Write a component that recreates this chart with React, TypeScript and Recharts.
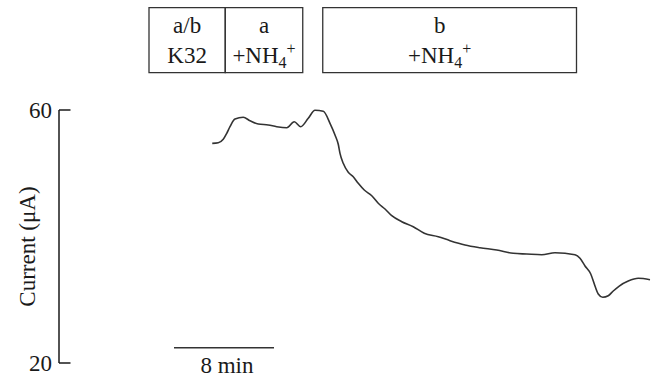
import { LineChart, Line, XAxis, YAxis, ReferenceArea, ReferenceLine, Label } from 'recharts'

// trace (time in min, current in µA)
const timeMin = [
  12.26, 12.74, 13.14, 13.42, 13.68, 14.08, 14.74, 15.28, 15.94, 16.74, 17.42, 18.22, 18.82, 19.34,
  19.94, 20.48, 21.14, 21.68, 22.08, 22.34, 22.48, 22.74, 23.14, 23.54, 23.94, 24.42, 25.02, 25.54,
  26.08, 26.62, 27.42, 28.34, 29.22, 30.34, 31.28, 32.48, 33.68, 35.02, 36.34, 37.42, 38.62, 39.68,
  41.28, 41.68, 42.08, 42.54, 42.88, 43.14, 43.5, 43.94, 44.34, 44.82, 45.54, 46.34, 47.28,
]
const currentUA = [
  54.73, 54.83, 55.37, 56.32, 57.36, 58.58, 58.85, 58.31, 57.79, 57.63, 57.36, 57.2, 58.15, 57.36,
  58.69, 59.95, 59.79, 57.9, 56.05, 54.58, 53.15, 51.57, 50.15, 49.45, 48.41, 47.35, 46.45, 45.25,
  44.35, 43.29, 42.34, 41.55, 40.51, 39.97, 39.34, 38.66, 38.23, 37.87, 37.34, 37.23, 37.12, 37.44,
  37.12, 36.55, 35.34, 34.07, 32.17, 30.91, 30.39, 30.64, 31.38, 32.17, 32.96, 33.39, 33.17,
]
const yTicks = [20, 60]

// treatment periods shown in the boxes above the trace
const cellStart = [7.2, 13.3, 21.1]
const cellEnd = [13.3, 19.5, 41.4]
const cellTop = ['a/b', 'a', 'b']
const cellBottom = ['K32', '+NH4+', '+NH4+']
const boxLow = 65.9
const boxHigh = 76.2

const scaleBarStart = 9.2
const scaleBarMinutes = 8
const scaleBarLevel = 22.4

const FONT = 'Liberation Serif, Times New Roman, serif'
const FS = 23
const INK = '#1a1a1a'

const data = timeMin.map((t, i) => ({ t, v: currentUA[i] }))

const textStyle = { fontFamily: FONT, fontSize: FS }

function Chem({ text }: { text: string }) {
  if (text === '+NH4+') {
    return (
      <>
        <tspan>+NH</tspan>
        <tspan dy={5} style={{ fontSize: 16 }}>4</tspan>
        <tspan dy={-14} style={{ fontSize: 16 }}>+</tspan>
      </>
    )
  }
  return <tspan>{text}</tspan>
}

function cellLabel(i: number) {
  return (props: any) => {
    const vb = props.viewBox
    if (!vb) return null
    const cx = vb.x + vb.width / 2 + (i === 2 ? -10 : 0)
    return (
      <g fill={INK}>
        <text x={cx} y={vb.y + 25.5} textAnchor="middle" style={textStyle}>{cellTop[i]}</text>
        <text x={cx} y={vb.y + 55.5} textAnchor="middle" style={textStyle}>
          <Chem text={cellBottom[i]} />
        </text>
      </g>
    )
  }
}

function YTick(props: any) {
  const { x, y, payload } = props
  return (
    <g>
      <line x1={x + 7} x2={x + 18.5} y1={y} y2={y} stroke={INK} strokeWidth={1.5} />
      <text x={x} y={y} dy="0.355em" textAnchor="end" fill={INK} style={textStyle}>
        {payload.value}
      </text>
    </g>
  )
}

export default function App() {
  return (
    <div style={{ position: 'absolute', left: 0, top: 0, background: '#fff' }}>
      <LineChart width={654} height={379} data={data} margin={{ top: 110, right: 0, bottom: 16, left: 0 }}>
        <XAxis dataKey="t" type="number" domain={[0, 47.6]} hide />
        <YAxis
          width={59}
          domain={[20, 60]}
          ticks={yTicks}
          tickSize={0}
          tickMargin={7}
          tickLine={false}
          tick={<YTick />}
          axisLine={{ stroke: INK, strokeWidth: 1.5 }}
        >
          <Label
            content={(p: any) => {
              const vb = p.viewBox
              if (!vb) return null
              const x = vb.x + 27
              const y = vb.y + vb.height / 2 + 10
              return (
                <text
                  x={x}
                  y={y}
                  transform={`rotate(-90 ${x} ${y})`}
                  textAnchor="middle"
                  dominantBaseline="central"
                  fill={INK}
                  style={textStyle}
                >
                  Current (μA)
                </text>
              )
            }}
          />
        </YAxis>
        {cellStart.map((s, i) => (
          <ReferenceArea
            key={i}
            x1={s}
            x2={cellEnd[i]}
            y1={boxLow}
            y2={boxHigh}
            ifOverflow="visible"
            fill="none"
            stroke="#333"
            strokeWidth={1.3}
            label={cellLabel(i)}
          />
        ))}
        <ReferenceLine
          segment={[
            { x: scaleBarStart, y: scaleBarLevel },
            { x: scaleBarStart + scaleBarMinutes, y: scaleBarLevel },
          ]}
          stroke="#333"
          strokeWidth={1.5}
          label={(p: any) => {
            const vb = p.viewBox
            if (!vb) return null
            return (
              <text
                x={vb.x + vb.width / 2 + 3}
                y={vb.y + 25.5}
                textAnchor="middle"
                fill={INK}
                style={textStyle}
              >
                {`${scaleBarMinutes} min`}
              </text>
            )
          }}
        />
        <Line
          type="monotone"
          dataKey="v"
          stroke="#333"
          strokeWidth={1.6}
          dot={false}
          isAnimationActive={false}
        />
      </LineChart>
    </div>
  )
}
